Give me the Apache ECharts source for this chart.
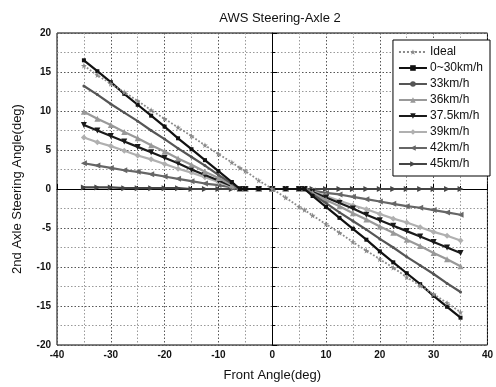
<!DOCTYPE html>
<html>
<head>
<meta charset="utf-8">
<script src="https://cdn.jsdelivr.net/npm/echarts@6/dist/echarts.min.js"></script>
<style>
  html, body { margin: 0; padding: 0; background: #fff; }
  #main { width: 496px; height: 387px; }
</style>
</head>
<body>
<div id="main"></div>
<script>
// front axle angle (deg), shared by all series
const angles = [-35, -32.5, -30, -27.5, -25, -22.5, -20, -17.5, -15, -12.5, -10, -7.5, -6, -5, -2.5, 0,
   2.5, 5, 6, 7.5, 10, 12.5, 15, 17.5, 20, 22.5, 25, 27.5, 30, 32.5, 35];

const seriesNames = ["Ideal", "0~30km/h", "33km/h", "36km/h", "37.5km/h", "39km/h", "42km/h", "45km/h"];

const ideal = [15.8, 14.6, 13.5, 12.4, 11.3, 10.1, 9.0, 7.9, 6.8, 5.6, 4.5, 3.4, 2.7, 2.3, 1.1, 0,
   -1.1, -2.3, -2.7, -3.4, -4.5, -5.6, -6.8, -7.9, -9.0, -10.1, -11.3, -12.4, -13.5, -14.6, -15.8];
const v0_30 = [16.5, 15.1, 13.7, 12.2, 10.8, 9.4, 8.0, 6.5, 5.1, 3.7, 2.3, 0.9, 0, 0, 0, 0,
   0, 0, 0, -0.9, -2.3, -3.7, -5.1, -6.5, -8.0, -9.4, -10.8, -12.2, -13.7, -15.1, -16.5];
const v33 = [13.2, 12.1, 10.9, 9.8, 8.7, 7.5, 6.4, 5.2, 4.1, 3.0, 1.8, 0.7, 0, 0, 0, 0,
   0, 0, 0, -0.7, -1.8, -3.0, -4.1, -5.2, -6.4, -7.5, -8.7, -9.8, -10.9, -12.1, -13.2];
const v36 = [9.9, 9.0, 8.2, 7.3, 6.5, 5.6, 4.8, 3.9, 3.1, 2.2, 1.4, 0.5, 0, 0, 0, 0,
   0, 0, 0, -0.5, -1.4, -2.2, -3.1, -3.9, -4.8, -5.6, -6.5, -7.3, -8.2, -9.0, -9.9];
const v37_5 = [8.2, 7.5, 6.8, 6.1, 5.4, 4.7, 4.0, 3.3, 2.5, 1.8, 1.1, 0.4, 0, 0, 0, 0,
   0, 0, 0, -0.4, -1.1, -1.8, -2.5, -3.3, -4.0, -4.7, -5.4, -6.1, -6.8, -7.5, -8.2];
const v39 = [6.6, 6.0, 5.5, 4.9, 4.3, 3.8, 3.2, 2.6, 2.1, 1.5, 0.9, 0.3, 0, 0, 0, 0,
   0, 0, 0, -0.3, -0.9, -1.5, -2.1, -2.6, -3.2, -3.8, -4.3, -4.9, -5.5, -6.0, -6.6];
const v42 = [3.3, 3.0, 2.7, 2.4, 2.2, 1.9, 1.6, 1.3, 1.0, 0.7, 0.5, 0.2, 0, 0, 0, 0,
   0, 0, 0, -0.2, -0.5, -0.7, -1.0, -1.3, -1.6, -1.9, -2.2, -2.4, -2.7, -3.0, -3.3];
const v45 = [0.2, 0.2, 0.2, 0.1, 0.1, 0.1, 0.1, 0.1, 0, 0, 0, 0, 0, 0, 0, 0,
   0, 0, 0, 0, 0, 0, 0, 0, 0, 0, 0, 0, 0, 0, 0];

const xTicks = { min: -40, max: 40, interval: 10 };
const yTicks = { min: -20, max: 20, interval: 5 };

const STAR = "path://M5,0 L6.2,3.6 L10,3.6 L6.9,5.8 L8.1,9.5 L5,7.2 L1.9,9.5 L3.1,5.8 L0,3.6 L3.8,3.6 Z";
const TRI_DOWN = "path://M0,0 L10,0 L5,9 Z";
const TRI_LEFT = "path://M10,0 L10,10 L1,5 Z";
const TRI_RIGHT = "path://M0,0 L0,10 L9,5 Z";

const valueSets = [ideal, v0_30, v33, v36, v37_5, v39, v42, v45];
const looks = [
   { color: "#8a8a8a", symbol: STAR, size: 6, line: "dotted" },
   { color: "#111", symbol: "rect", size: 4, line: "solid" },
   { color: "#555", symbol: "circle", size: 3, line: "solid" },
   { color: "#999", symbol: "triangle", size: 6, line: "solid" },
   { color: "#1a1a1a", symbol: TRI_DOWN, size: 6, line: "solid" },
   { color: "#b0b0b0", symbol: "diamond", size: 6, line: "solid" },
   { color: "#666", symbol: TRI_LEFT, size: 6, line: "solid" },
   { color: "#444", symbol: TRI_RIGHT, size: 6, line: "solid" },
];

const series = seriesNames.map((name, i) => ({
   name: name,
   type: "line",
   data: angles.map((a, j) => [a, valueSets[i][j]]),
   symbol: looks[i].symbol,
   symbolSize: looks[i].size,
   showAllSymbol: true,
   itemStyle: { color: looks[i].color },
   lineStyle: { color: looks[i].color, width: i === 0 ? 1.8 : 2.2, type: looks[i].line },
   z: 10 - i,
   animation: false,
}));

const font = "Liberation Sans, Arial, sans-serif";

const option = {
   backgroundColor: "#fff",
   textStyle: { fontFamily: font },
   title: {
      text: "AWS Steering-Axle 2",
      left: 275,
      top: 7,
      textAlign: "center",
      textStyle: { fontSize: 13, fontWeight: "normal", color: "#111", fontFamily: font },
   },
   legend: {
      orient: "vertical",
      right: 6,
      top: 40,
      padding: [6, 7, 6, 5],
      borderColor: "#000",
      borderWidth: 1,
      backgroundColor: "#fff",
      itemWidth: 28,
      itemHeight: 7,
      itemGap: 4,
      textStyle: { fontSize: 12, color: "#111", fontFamily: font, padding: [0, 0, 0, -2] },
      data: seriesNames,
   },
   grid: {
      left: 57,
      right: 4,
      top: 33,
      bottom: 39,
      show: true,
      borderColor: "#000",
      borderWidth: 1,
   },
   xAxis: {
      type: "value",
      min: xTicks.min,
      max: xTicks.max,
      interval: xTicks.interval,
      name: "Front Angle(deg)",
      nameLocation: "middle",
      nameGap: 24,
      nameTextStyle: { fontSize: 13, color: "#111" },
      axisLine: { show: true, lineStyle: { color: "#000" } },
      axisTick: { show: true, inside: true, length: 5, lineStyle: { color: "#000" } },
      minorTick: { show: true, splitNumber: 2, length: 3, lineStyle: { color: "#000" } },
      axisLabel: { fontSize: 10, fontWeight: "bold", color: "#111", margin: 5 },
      splitLine: { show: true, lineStyle: { type: [1.5, 2], color: "#555" } },
      minorSplitLine: { show: true, lineStyle: { type: [1.5, 2], color: "#999" } },
   },
   yAxis: {
      type: "value",
      min: yTicks.min,
      max: yTicks.max,
      interval: yTicks.interval,
      name: "2nd Axle Steering Angle(deg)",
      nameLocation: "middle",
      nameGap: 33,
      nameTextStyle: { fontSize: 13, color: "#111" },
      axisLine: { show: true, lineStyle: { color: "#000" } },
      axisTick: { show: true, inside: true, length: 5, lineStyle: { color: "#000" } },
      minorTick: { show: true, splitNumber: 2, length: 3, lineStyle: { color: "#000" } },
      axisLabel: { fontSize: 10, fontWeight: "bold", color: "#111", margin: 6 },
      splitLine: { show: true, lineStyle: { type: [1.5, 2], color: "#555" } },
      minorSplitLine: { show: true, lineStyle: { type: [1.5, 2], color: "#999" } },
   },
   series: series,
};

const myChart = echarts.init(document.getElementById("main"));
option && myChart.setOption(option);
</script>
</body>
</html>
